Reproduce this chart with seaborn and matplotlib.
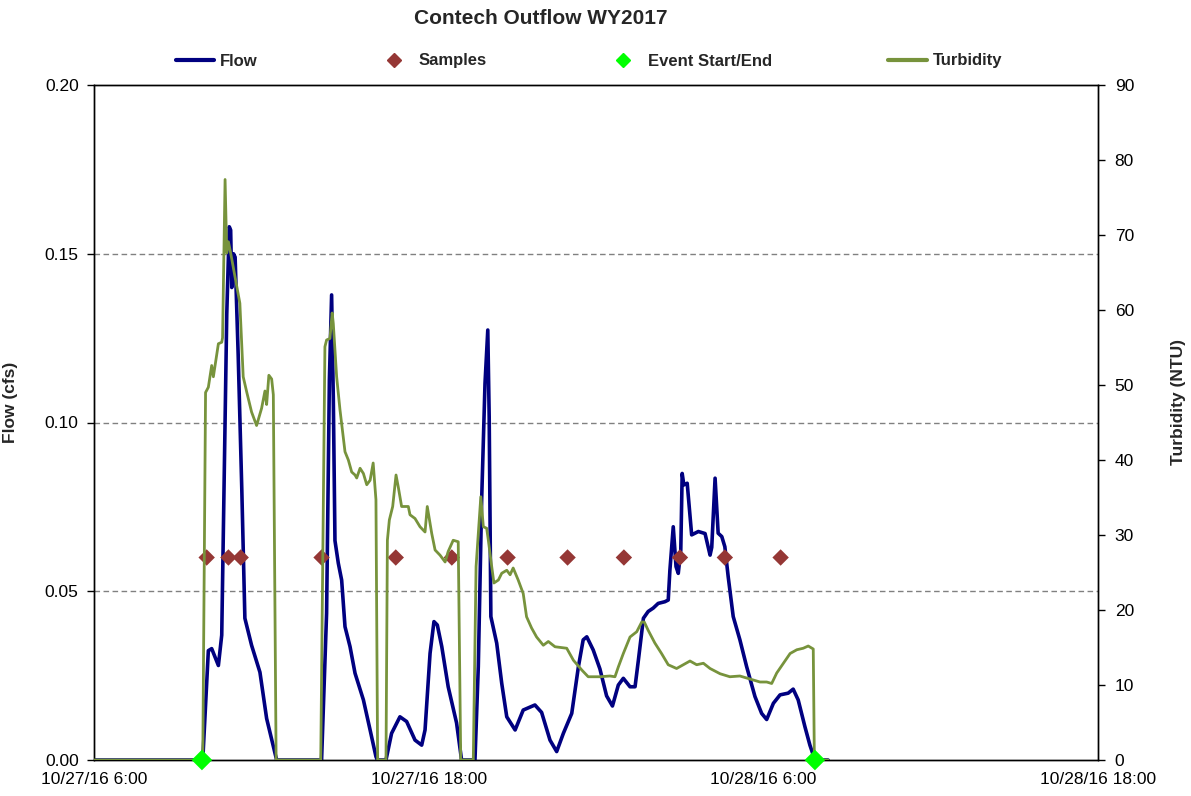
import numpy as np
import pandas as pd
import matplotlib
matplotlib.use("Agg")
import matplotlib.pyplot as plt
import matplotlib.dates as mdates
from matplotlib.lines import Line2D
import seaborn as sns

# ---------------- data (hours since 10/27/16 00:00) ----------------
flow_hours = [6.00, 9.90, 10.10, 10.22, 10.46, 10.58, 10.76, 10.85, 10.90, 10.94, 11.00, 11.06,
              11.17, 11.30, 11.41, 11.65, 11.95, 12.19, 12.49, 12.55, 14.16, 14.34, 14.44, 14.52,
              14.58, 14.64, 14.76, 14.88, 15.00, 15.18, 15.36, 15.66, 15.90, 16.11, 16.16, 16.47,
              16.67, 16.97, 17.21, 17.51, 17.75, 17.87, 18.05, 18.19, 18.31, 18.47, 18.70, 19.00,
              19.18, 19.66, 19.78, 19.90, 20.02, 20.12, 20.17, 20.23, 20.44, 20.62, 20.80, 21.10,
              21.39, 21.81, 22.05, 22.35, 22.59, 22.83, 23.13, 23.37, 23.54, 23.67, 23.90, 24.14,
              24.38, 24.59, 24.80, 24.98, 25.22, 25.40, 25.52, 25.70, 25.87, 26.05, 26.23, 26.47,
              26.59, 26.65, 26.77, 26.87, 26.95, 27.04, 27.09, 27.15, 27.27, 27.43, 27.67, 27.91,
              28.09, 28.15, 28.27, 28.38, 28.51, 28.62, 28.74, 28.92, 29.16, 29.40, 29.70, 29.94,
              30.12, 30.36, 30.60, 30.89, 31.07, 31.25, 31.49, 31.67, 31.85, 32.32]
flow_cfs = [0.0, 0.0, 0.0324, 0.033, 0.028, 0.037, 0.132, 0.158, 0.157, 0.140, 0.150, 0.149,
            0.120, 0.080, 0.042, 0.034, 0.026, 0.0123, 0.002, 0.0, 0.0, 0.0435, 0.1126, 0.1378,
            0.1077, 0.065, 0.0583, 0.0533, 0.0395, 0.0336, 0.0257, 0.0178, 0.0089, 0.001, 0.0, 0.0,
            0.0079, 0.0128, 0.0114, 0.0059, 0.0044, 0.0089, 0.0316, 0.041, 0.040, 0.0336, 0.0217, 0.011,
            0.0, 0.0, 0.0277, 0.077, 0.1116, 0.1274, 0.1017, 0.0425, 0.0346, 0.0227, 0.0128, 0.0089,
            0.0148, 0.0163, 0.0141, 0.0059, 0.0025, 0.0079, 0.0138, 0.0277, 0.0356, 0.0365, 0.0326, 0.027,
            0.019, 0.016, 0.0222, 0.0242, 0.0217, 0.0217, 0.0296, 0.042, 0.044, 0.045, 0.0464, 0.0469,
            0.0474, 0.0563, 0.0691, 0.0573, 0.0553, 0.0622, 0.0849, 0.0815, 0.082, 0.0667, 0.0677, 0.0671,
            0.0607, 0.063, 0.0835, 0.0672, 0.0662, 0.0632, 0.0543, 0.0425, 0.0356, 0.0277, 0.0188, 0.0138,
            0.012, 0.0168, 0.0193, 0.0198, 0.021, 0.0178, 0.0099, 0.0044, 0.0, 0.0]

turb_hours = [6.00, 9.90, 10.00, 10.10, 10.22, 10.28, 10.46, 10.58, 10.61, 10.70, 10.76, 10.82,
              10.88, 11.23, 11.35, 11.48, 11.65, 11.83, 12.01, 12.13, 12.19, 12.27, 12.37, 12.43,
              12.53, 14.13, 14.28, 14.34, 14.46, 14.54, 14.58, 14.70, 14.82, 15.00, 15.12, 15.24,
              15.36, 15.42, 15.54, 15.66, 15.78, 15.90, 16.01, 16.11, 16.17, 16.47, 16.52, 16.59,
              16.71, 16.83, 16.91, 17.03, 17.27, 17.33, 17.51, 17.69, 17.87, 17.95, 18.11, 18.23,
              18.41, 18.59, 18.70, 18.88, 19.06, 19.15, 19.60, 19.70, 19.78, 19.87, 19.96, 20.08,
              20.14, 20.26, 20.34, 20.50, 20.62, 20.80, 20.92, 21.03, 21.21, 21.39, 21.51, 21.69,
              21.87, 22.11, 22.29, 22.53, 22.95, 23.19, 23.49, 23.72, 24.14, 24.50, 24.68, 24.80,
              24.98, 25.22, 25.46, 25.64, 25.73, 25.87, 26.11, 26.35, 26.59, 26.89, 27.13, 27.37,
              27.61, 27.85, 28.09, 28.45, 28.80, 29.16, 29.52, 29.88, 30.12, 30.30, 30.48, 30.72,
              30.96, 31.20, 31.43, 31.61, 31.79, 31.83, 32.32]
turb_ntu = [0, 0, 49.0, 49.7, 52.6, 51.1, 55.5, 55.7, 56.3, 77.4, 67.6, 69.1,
            68.0, 60.9, 51.1, 49.0, 46.4, 44.6, 46.9, 49.2, 47.4, 51.3, 50.8, 48.7,
            0, 0, 55.1, 56.0, 56.2, 59.6, 58.2, 51.1, 46.7, 41.1, 40.0, 38.4,
            38.0, 37.6, 38.9, 38.2, 36.7, 37.3, 39.6, 34.7, 0, 0, 29.3, 32.0,
            33.8, 38.0, 36.4, 33.8, 33.8, 32.7, 32.2, 31.1, 30.4, 33.8, 30.2, 28.0,
            27.3, 26.4, 27.8, 29.3, 29.1, 0, 0, 25.8, 30.2, 35.1, 31.1, 30.9,
            29.3, 25.8, 23.6, 24.0, 24.9, 25.3, 24.7, 25.6, 24.0, 22.2, 19.1, 17.6,
            16.4, 15.3, 15.8, 15.1, 14.9, 13.3, 12.0, 11.1, 11.1, 11.2, 11.1, 12.4,
            14.2, 16.4, 17.1, 18.4, 18.4, 17.3, 15.6, 14.2, 12.7, 12.2, 12.7, 13.2,
            12.7, 12.9, 12.2, 11.5, 11.1, 11.2, 10.8, 10.4, 10.4, 10.2, 11.6, 12.9,
            14.2, 14.7, 14.9, 15.2, 14.8, 0, 0]

sample_hours = [10.04, 10.82, 11.26, 14.16, 16.82, 18.83, 20.83, 22.98, 25.00, 27.01, 28.62, 30.62]
sample_flow = [0.06] * len(sample_hours)

event_hours = [9.87, 31.85]
event_values = [0.0, 0.0]

y_left_ticks = [0.00, 0.05, 0.10, 0.15, 0.20]
y_right_ticks = [0, 10, 20, 30, 40, 50, 60, 70, 80, 90]
x_tick_labels = ["10/27/16 6:00", "10/27/16 18:00", "10/28/16 6:00", "10/28/16 18:00"]

# ---------------- build frames ----------------
base = pd.Timestamp("2016-10-27 00:00")
to_t = lambda h: base + pd.to_timedelta(np.array(h), unit="h")
flow_df = pd.DataFrame({"time": to_t(flow_hours), "flow": flow_cfs})
turb_df = pd.DataFrame({"time": to_t(turb_hours), "turb": turb_ntu})
samp_df = pd.DataFrame({"time": to_t(sample_hours), "flow": sample_flow})
evt_df = pd.DataFrame({"time": to_t(event_hours), "val": event_values})

sns.set_theme(style="white")
plt.rcParams["font.family"] = ["Liberation Sans", "DejaVu Sans"]

NAVY = "#000080"
OLIVE = "#77933C"
SAMP = "#953735"
EVT = "#00FF00"

fig = plt.figure(figsize=(11.91, 7.96), dpi=100)
ax = fig.add_axes([94 / 1191, 1 - 760 / 796, (1098 - 94) / 1191, (760 - 85) / 796])
ax2 = ax.twinx()

sns.lineplot(data=flow_df, x="time", y="flow", ax=ax, color=NAVY, lw=2.6,
             estimator=None, sort=False, zorder=3)
sns.scatterplot(data=samp_df, x="time", y="flow", ax=ax, marker="D", s=70,
                color=SAMP, edgecolor="none", zorder=4)
sns.lineplot(data=turb_df, x="time", y="turb", ax=ax2, color=OLIVE, lw=2.0,
             estimator=None, sort=False, zorder=3)
sns.scatterplot(data=evt_df, x="time", y="val", ax=ax2, marker="D", s=110,
                color=EVT, edgecolor="none", zorder=5, clip_on=False)

x0 = base + pd.Timedelta(hours=6)
x1 = base + pd.Timedelta(hours=42)
ax.set_xlim(x0, x1)
ax.set_ylim(0, 0.20)
ax2.set_ylim(0, 90)

ax.set_yticks(y_left_ticks)
ax.set_yticklabels([f"{v:.2f}" for v in y_left_ticks])
ax2.set_yticks(y_right_ticks)
ax2.set_yticklabels([str(v) for v in y_right_ticks])

major = [x0 + pd.Timedelta(hours=12 * i) for i in range(4)]
ax.set_xticks(major)
ax.set_xticklabels(x_tick_labels)
ax.xaxis.set_minor_locator(mdates.HourLocator(byhour=[0, 3, 9, 12, 15, 21]))

for v in [0.05, 0.10, 0.15]:
    ax.axhline(v, color="#808080", lw=1.0, ls=(0, (4, 2.5)), zorder=1)

for a in (ax, ax2):
    for s in a.spines.values():
        s.set_color("black")
        s.set_linewidth(1.0)
        s.set_visible(True)

ax.tick_params(axis="x", which="major", direction="inout", length=11, width=1,
               labelsize=12.5, pad=3, colors="black")
ax.tick_params(axis="x", which="minor", direction="out", length=5, width=1, colors="black")
ax.tick_params(axis="y", which="major", direction="out", length=5, width=1,
               labelsize=12.5, pad=6, left=True, colors="black")
ax2.tick_params(axis="y", which="major", direction="out", length=5, width=1,
                labelsize=12.5, pad=7, right=True, colors="black")

ax.set_xlabel("")
ax.set_ylabel("Flow (cfs)", fontsize=12.5, fontweight="bold")
ax.yaxis.set_label_coords(-0.0757, 0.53)
ax2.set_ylabel("Turbidity (NTU)", fontsize=12.5, fontweight="bold")
ax2.yaxis.set_label_coords(1.073, 0.53)

ax.set_zorder(ax2.get_zorder() - 1)
ax.patch.set_visible(True)
ax2.patch.set_visible(False)

fig.text(541 / 1191, 1 - 18 / 796, "Contech Outflow WY2017", ha="center", va="center",
         fontsize=15, fontweight="bold")

handles = [
    Line2D([], [], color=NAVY, lw=3),
    Line2D([], [], color=SAMP, marker="D", ls="none", markersize=7),
    Line2D([], [], color=EVT, marker="D", ls="none", markersize=7),
    Line2D([], [], color=OLIVE, lw=3),
]
labels = ["Flow", "Samples", "Event Start/End", "Turbidity"]
fig.legend(handles, labels, loc="center", bbox_to_anchor=(589 / 1191, 1 - 61 / 796),
           ncol=4, frameon=False, prop={"weight": "bold", "size": 12},
           handlelength=2.3, handletextpad=0.35, columnspacing=7.0)

fig.savefig("out.png", dpi=100)
